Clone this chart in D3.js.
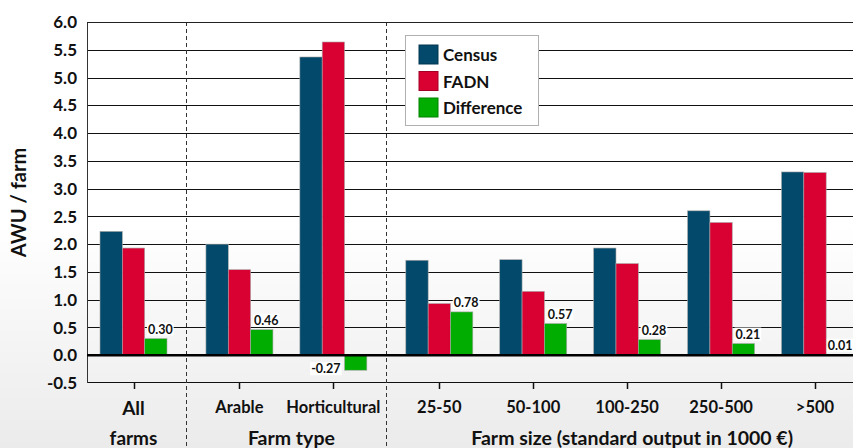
<!DOCTYPE html>
<html>
<head>
<meta charset="utf-8">
<script src="https://cdn.jsdelivr.net/npm/d3@7/dist/d3.min.js"></script>
<style>
  html, body { margin: 0; padding: 0; }
  body { width: 853px; height: 448px; overflow: hidden; }
  svg { display: block; }
  text { font-family: Lato, "Open Sans", sans-serif; font-weight: bold; fill: #111; }
</style>
</head>
<body>
<svg id="chart" width="853" height="448"></svg>
<script>
// Labour input per farm (AWU) by farm group, two sources and their difference
const categories = ["All farms", "Arable", "Horticultural", "25-50", "50-100", "100-250", "250-500", ">500"];
const categoryGroup = [0, 1, 1, 2, 2, 2, 2, 2];
const groupTitles = ["", "Farm type", "Farm size (standard output in 1000 €)"];
const seriesNames = ["Census", "FADN", "Difference"];
const census     = [2.23, 2.00, 5.37, 1.71, 1.72, 1.93, 2.60, 3.30];
const fadn       = [1.93, 1.54, 5.64, 0.93, 1.15, 1.65, 2.39, 3.29];
const difference = [0.30, 0.46, -0.27, 0.78, 0.57, 0.28, 0.21, 0.01];
const yTicks = [-0.5, 0.0, 0.5, 1.0, 1.5, 2.0, 2.5, 3.0, 3.5, 4.0, 4.5, 5.0, 5.5, 6.0];
const colors = ["#02496b", "#d90032", "#00ad00"];

const W = 853, H = 448;
const plot = { left: 87, right: 853, top: 22, bottom: 383 };
const svg = d3.select("#chart");

// page background: white fading to light grey toward the bottom
const defs = svg.append("defs");
const grad = defs.append("linearGradient").attr("id", "bg").attr("x1", 0).attr("y1", 0).attr("x2", 0).attr("y2", 1);
grad.append("stop").attr("offset", "0%").attr("stop-color", "#ffffff");
grad.append("stop").attr("offset", "50%").attr("stop-color", "#ffffff");
grad.append("stop").attr("offset", "100%").attr("stop-color", "#ebebeb");
svg.append("rect").attr("width", W).attr("height", H).attr("fill", "url(#bg)");

// y scale
const y = d3.scaleLinear().domain([-0.5, 6.0]).range([plot.bottom, plot.top]);

// x: category slots, with a small extra gap between groups
const groupGap = 0.128;
const slot = categories.map((c, i) => i + groupGap * categoryGroup[i]);
const x = d3.scaleLinear().domain([0, d3.max(slot)]).range([133.5, 815]);
const inner = d3.scaleBand().domain(seriesNames).range([-33.5, 33.5]);

const fmt1 = v => v.toFixed(1);
const fmt2 = v => v.toFixed(2);

// gridlines
svg.append("g").selectAll("line")
  .data(yTicks.filter(t => t > 0))
  .join("line")
  .attr("x1", plot.left).attr("x2", plot.right)
  .attr("y1", d => Math.round(y(d)) + 0.5).attr("y2", d => Math.round(y(d)) + 0.5)
  .attr("stroke", "#111").attr("stroke-width", 1);

// bottom frame and left axis
svg.append("line").attr("x1", plot.left).attr("x2", plot.right)
  .attr("y1", y(-0.5) - 0.5).attr("y2", y(-0.5) - 0.5).attr("stroke", "#111").attr("stroke-width", 1);
svg.append("line").attr("x1", plot.left + 0.5).attr("x2", plot.left + 0.5)
  .attr("y1", plot.top).attr("y2", plot.bottom).attr("stroke", "#333").attr("stroke-width", 1);

// y axis tick labels
svg.append("g").selectAll("text")
  .data(yTicks)
  .join("text")
  .attr("x", 77).attr("y", d => y(d))
  .attr("dy", "0.36em")
  .attr("text-anchor", "end")
  .style("font-size", "17px")
  .text(fmt1);

// y axis title
svg.append("text")
  .attr("transform", `translate(26,${(plot.top + plot.bottom) / 2}) rotate(-90)`)
  .attr("text-anchor", "middle")
  .style("font-size", "20px")
  .text("AWU / farm");

// group separators (dashed), midway between neighbouring groups
const separators = [];
for (let i = 1; i < categories.length; i++) {
  if (categoryGroup[i] !== categoryGroup[i - 1]) separators.push((x(slot[i]) + x(slot[i - 1])) / 2);
}
svg.append("g").selectAll("line")
  .data(separators)
  .join("line")
  .attr("x1", d => Math.round(d) + 0.5).attr("x2", d => Math.round(d) + 0.5)
  .attr("y1", plot.top).attr("y2", H)
  .attr("stroke", "#333").attr("stroke-width", 1).attr("stroke-dasharray", "4,3");

// bars
const rows = categories.map((c, i) => ({ cat: c, i, values: [census[i], fadn[i], difference[i]] }));
const barW = inner.bandwidth();
const bars = svg.append("g");
rows.forEach(r => {
  r.values.forEach((v, s) => {
    const x0 = x(slot[r.i]) + inner(seriesNames[s]);
    bars.append("rect")
      .attr("x", x0)
      .attr("y", Math.min(y(v), y(0)))
      .attr("width", barW)
      .attr("height", Math.abs(y(v) - y(0)))
      .attr("fill", colors[s])
      .attr("stroke", "#a8a8a8").attr("stroke-width", 0.6);
  });
});

// zero line
svg.append("line").attr("x1", plot.left).attr("x2", plot.right)
  .attr("y1", y(0)).attr("y2", y(0)).attr("stroke", "#000").attr("stroke-width", 2.5);

// top frame
svg.append("line").attr("x1", plot.left).attr("x2", plot.right)
  .attr("y1", plot.top + 0.5).attr("y2", plot.top + 0.5).attr("stroke", "#222").attr("stroke-width", 1);

// value labels on the difference bars, with white backing
const labels = svg.append("g");
rows.forEach(r => {
  const v = difference[r.i];
  const bx = x(slot[r.i]) + inner("Difference");
  const t = labels.append("text")
    .style("font-size", "12.5px")
    .text(fmt2(v));
  const tw = t.node().getComputedTextLength();
  let tx, ty;
  if (v >= 0) {
    // centred a little right of the bar, kept inside the page
    tx = Math.min(bx + barW / 2 + 4.5 - tw / 2, W - tw - 0.5);
    ty = y(v) - 5;
  } else {
    tx = bx - 4 - tw;
    ty = y(v) + 3;
  }
  t.attr("x", tx).attr("y", ty);
  const bb = t.node().getBBox();
  labels.insert("rect", "text")
    .attr("x", bb.x - 1).attr("y", bb.y + 1)
    .attr("width", bb.width + 2).attr("height", bb.height - 2)
    .attr("fill", "#fff");
});

// category ticks below the frame
svg.append("g").selectAll("line")
  .data(categories)
  .join("line")
  .attr("x1", (d, i) => Math.round(x(slot[i])) + 0.5).attr("x2", (d, i) => Math.round(x(slot[i])) + 0.5)
  .attr("y1", plot.bottom).attr("y2", plot.bottom + 6)
  .attr("stroke", "#111").attr("stroke-width", 1.5);

// category labels
categories.forEach((c, i) => {
  const cx = x(slot[i]);
  if (categoryGroup[i] === 0) {
    const parts = c.split(" ");
    svg.append("text").attr("x", cx).attr("y", 415).attr("text-anchor", "middle")
      .style("font-size", "19px").text(parts[0]);
    svg.append("text").attr("x", cx).attr("y", 445).attr("text-anchor", "middle")
      .style("font-size", "19px").text(parts[1]);
  } else {
    svg.append("text").attr("x", cx).attr("y", 413).attr("text-anchor", "middle")
      .style("font-size", "16.5px").text(c);
  }
});

// group titles
groupTitles.forEach((g, gi) => {
  if (!g) return;
  const idx = categories.map((c, i) => i).filter(i => categoryGroup[i] === gi);
  const cx = (x(slot[idx[0]]) + x(slot[idx[idx.length - 1]])) / 2 + 5;
  svg.append("text").attr("x", cx).attr("y", 445).attr("text-anchor", "middle")
    .style("font-size", "19.5px").text(g);
});

// legend
const legend = svg.append("g").attr("transform", "translate(405,35)");
legend.append("rect").attr("x", 0.5).attr("y", 0.5).attr("width", 133).attr("height", 90)
  .attr("fill", "#fff").attr("stroke", "#b0b0b0");
seriesNames.forEach((s, k) => {
  const gy = 10 + k * 26.5;
  legend.append("rect").attr("x", 14).attr("y", gy).attr("width", 19).attr("height", 19)
    .attr("fill", colors[k]).attr("stroke", d3.color(colors[k]).darker(0.8)).attr("stroke-width", 1);
  legend.append("text").attr("x", 38).attr("y", gy + 10).attr("dy", "0.36em")
    .style("font-size", "17px").text(s);
});
</script>
</body>
</html>
